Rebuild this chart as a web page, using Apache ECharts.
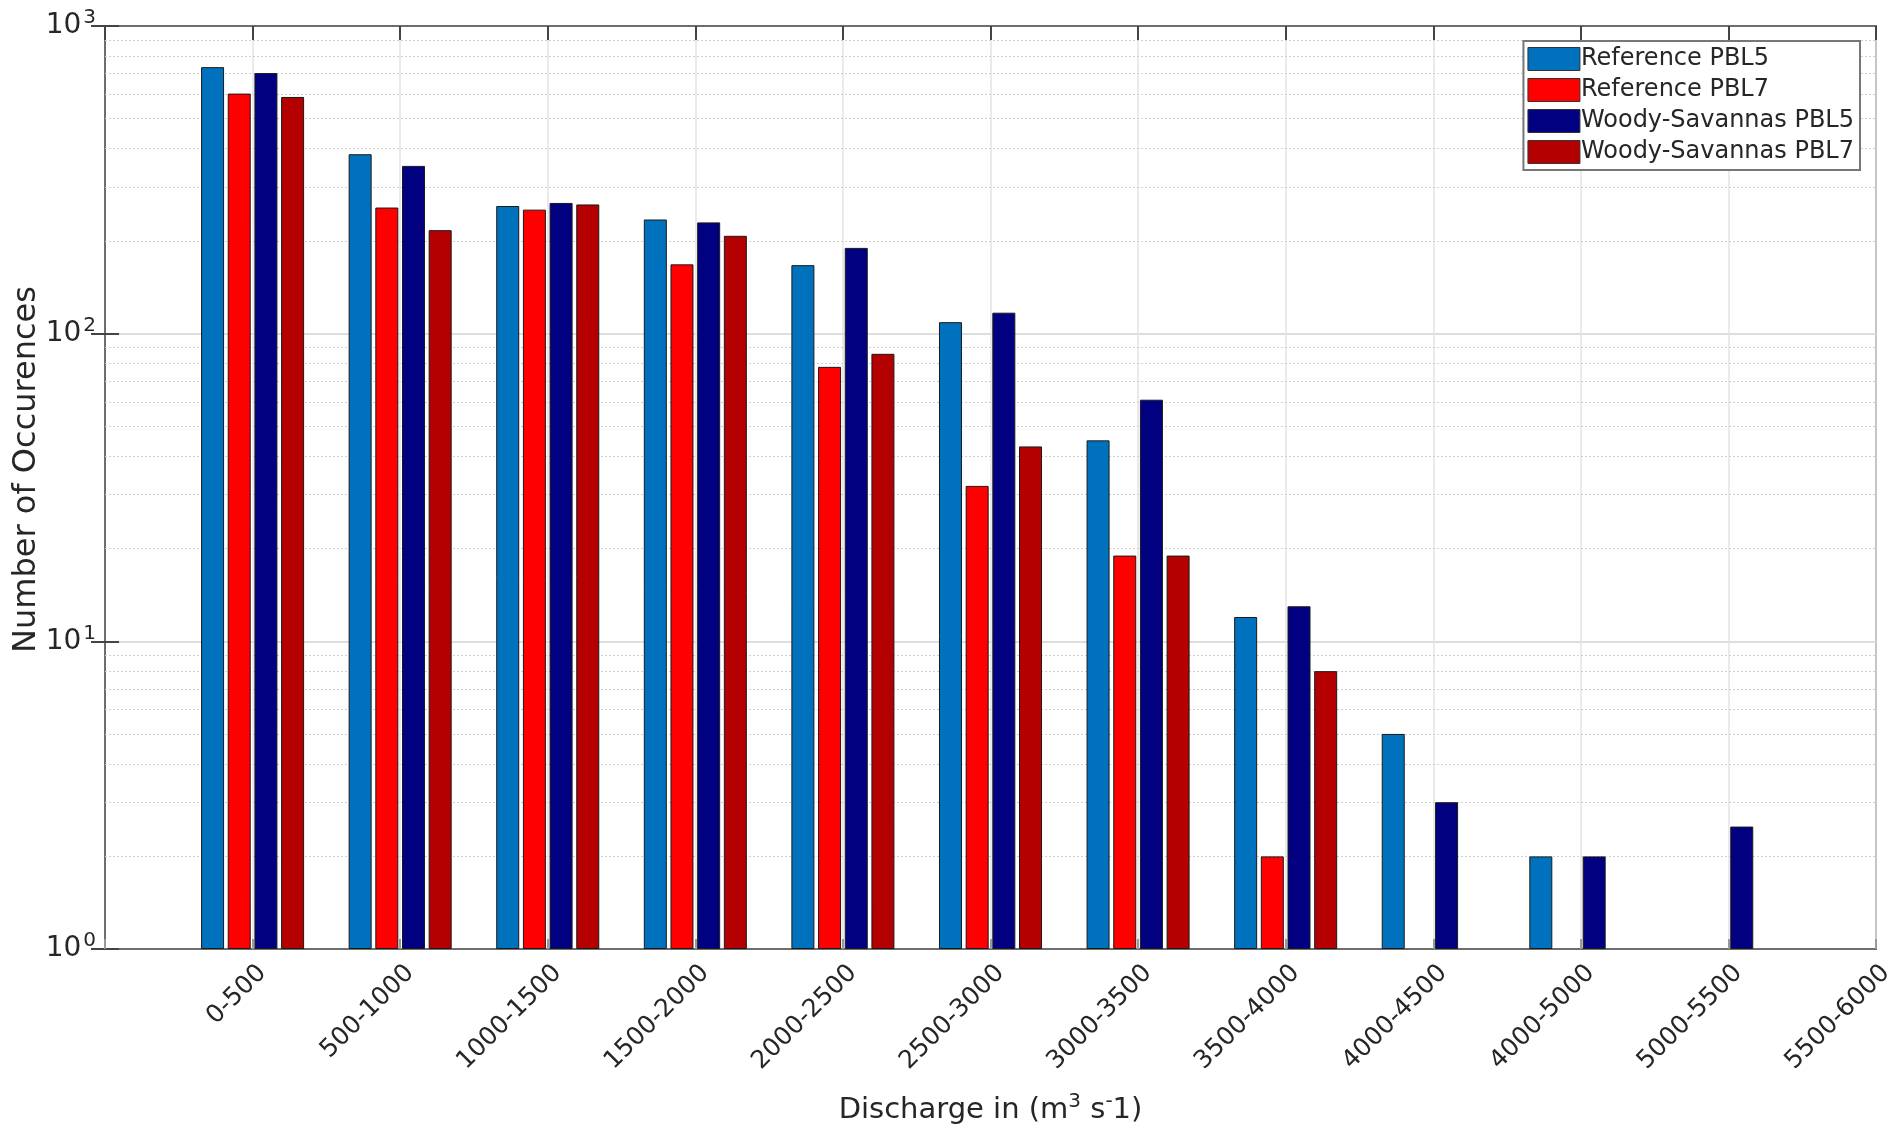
<!DOCTYPE html>
<html>
<head>
<meta charset="utf-8">
<script src="https://cdn.jsdelivr.net/npm/echarts@6/dist/echarts.min.js"></script>
<style>
  html, body { margin: 0; padding: 0; background: #fff; }
  #chart { width: 1902px; height: 1132px; }
</style>
</head>
<body>
<div id="chart"></div>
<script>
var categories = ["0-500","500-1000","1000-1500","1500-2000","2000-2500","2500-3000",
  "3000-3500","3500-4000","4000-4500","4000-5000","5000-5500","5500-6000"]
var refPBL5   = [735, 383, 260, 235, 167, 109, 45, 12, 5, 2, null, null]
var refPBL7   = [603, 257, 253, 168, 78, 32, 19, 2, null, null, null, null]
var woodyPBL5 = [703, 351, 266, 230, 190, 117, 61, 13, 3, 2, 2.5, null]
var woodyPBL7 = [588, 217, 263, 208, 86, 43, 19, 8, null, null, null, null]
var seriesNames = ["Reference PBL5","Reference PBL7","Woody-Savannas PBL5","Woody-Savannas PBL7"]
var seriesColors = ["#0072bd","#ff0000","#000080","#b40000"]

// minor dotted grid at 2..9 of each decade
var minorGrid = []
for (var d = 1; d < 1000; d *= 10) {
  for (var k = 2; k <= 9; k++) minorGrid.push({yAxis: k * d})
}

var font = "DejaVu Sans"
var txt = "#262626"

function mk(i, vals) {
  var s = {
    name: seriesNames[i],
    type: "bar",
    barWidth: 23,
    barGap: "16%",
    itemStyle: {color: seriesColors[i], borderColor: "#1a1a1a", borderWidth: 1},
    data: vals.map(function (v, j) { return [j + 1, v] })
  }
  if (i === 0) {
    s.markLine = {
      silent: true, symbol: "none", z: 1,
      label: {show: false},
      lineStyle: {color: "#cfcfcf", type: [2, 2], width: 1},
      data: minorGrid
    }
  }
  return s
}

var chart = echarts.init(document.getElementById("chart"))
chart.setOption({
  animation: false,
  backgroundColor: "#fff",
  grid: {left: 105, right: 26, top: 26, bottom: 183, outerBoundsMode: "none", containLabel: false,
    show: true, borderColor: "#6e6e6e", borderWidth: 2},
  legend: {
    right: 42, top: 41, orient: "vertical",
    backgroundColor: "#fff", borderColor: "#777", borderWidth: 2,
    padding: [6, 6, 6, 4], itemGap: 7, itemWidth: 52, itemHeight: 23,
    icon: "rect",
    itemStyle: {borderColor: "#333", borderWidth: 1},
    textStyle: {fontFamily: font, fontSize: 24, color: txt, padding: [0, 0, 0, -4]},
    data: seriesNames
  },
  xAxis: [{
    type: "value", min: 0, max: 12, interval: 1,
    name: "Discharge in (m{s|3} s{s|-}1)",
    nameLocation: "middle", nameGap: 143, nameMoveOverlap: false,
    nameTextStyle: {fontFamily: font, fontSize: 29, color: txt,
      rich: {s: {fontFamily: font, fontSize: 20, color: txt, verticalAlign: "top", padding: [0, 0, 16, 0]}}},
    axisLine: {show: true, onZero: false, lineStyle: {color: "#6e6e6e", width: 2}},
    axisTick: {show: true, inside: true, length: 10, lineStyle: {color: "#999", width: 2}},
    axisLabel: {
      rotate: 45, margin: 30, fontFamily: font, fontSize: 25, color: txt,
      padding: [0, -14, 0, 0],
      showMinLabel: true, showMaxLabel: true,
      formatter: function (v) { return categories[Math.round(v) - 1] || "" }
    },
    splitLine: {show: true, lineStyle: {color: "#e3e3e3", width: 1.5}}
  }, {
    type: "value", min: 0, max: 12, interval: 1, position: "top",
    axisLine: {show: true, onZero: false, lineStyle: {color: "#6e6e6e", width: 2}},
    axisTick: {show: true, inside: true, length: 14, lineStyle: {color: "#444", width: 2}},
    axisLabel: {show: false}, splitLine: {show: false}
  }],
  yAxis: [{
    type: "log", logBase: 10, min: 1, max: 1000, splitNumber: 3,
    name: "Number of Occurences", nameLocation: "middle", nameGap: 62, nameMoveOverlap: false,
    nameTextStyle: {fontFamily: font, fontSize: 32, color: txt, padding: [0, 0, 0, 36]},
    axisLine: {show: true, lineStyle: {color: "#6e6e6e", width: 2}},
    axisTick: {show: true, inside: true, length: 14, lineStyle: {color: "#444", width: 2}},
    axisLabel: {
      margin: 9, color: txt,
      formatter: function (v) { return "{b|10}{s|" + Math.round(Math.log10(v)) + "}" },
      rich: {
        b: {fontFamily: font, fontSize: 28, color: txt},
        s: {fontFamily: font, fontSize: 20, color: txt, verticalAlign: "top", padding: [0, 0, 16, 2]}
      }
    },
    splitLine: {show: true, lineStyle: {color: "#dedede", width: 2}}
  }, {
    type: "log", logBase: 10, min: 1, max: 1000, splitNumber: 3, position: "right",
    axisLine: {show: true, lineStyle: {color: "#6e6e6e", width: 2}},
    axisTick: {show: true, inside: true, length: 14, lineStyle: {color: "#444", width: 2}},
    axisLabel: {show: false}, splitLine: {show: false}
  }],
  series: [mk(0, refPBL5), mk(1, refPBL7), mk(2, woodyPBL5), mk(3, woodyPBL7)]
})
</script>
</body>
</html>
